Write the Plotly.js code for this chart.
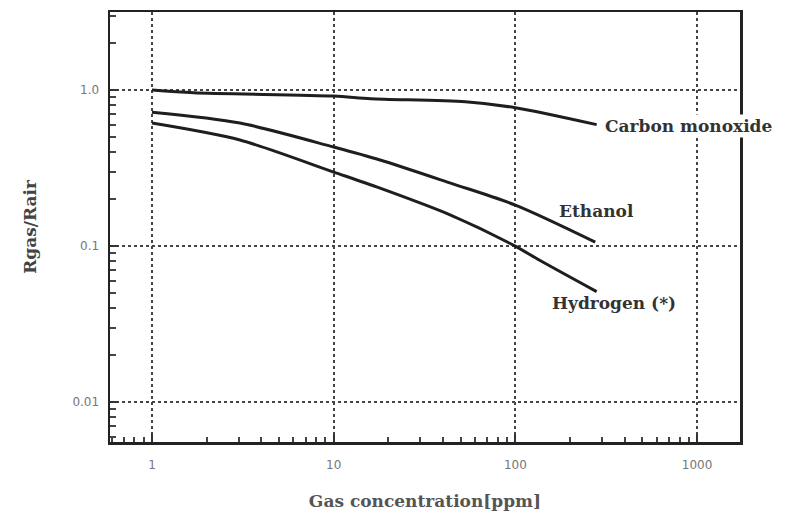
<!DOCTYPE html>
<html>
<head>
<meta charset="utf-8">
<script src="https://cdn.plot.ly/plotly-3.0.1.min.js"></script>
<style>html,body{margin:0;padding:0;background:#fff;}#chart{width:789px;height:520px;}</style>
</head>
<body>
<div id="chart"></div>
<script>
// Gas concentration (ppm) and Rgas/Rair
const coX = [1, 1.7, 10, 16, 53, 100, 280];
const coY = [1.0, 0.96, 0.915, 0.88, 0.84, 0.77, 0.6];
const ethX = [1, 3.05, 10, 18, 44, 100, 275];
const ethY = [0.72, 0.614, 0.431, 0.356, 0.253, 0.183, 0.106];
const h2X = [1, 3.05, 10, 18, 44, 98, 136, 280];
const h2Y = [0.614, 0.478, 0.298, 0.235, 0.158, 0.101, 0.081, 0.051];

const xTickVals = [1, 10, 100, 1000];
const xTickText = ["1", "10", "100", "1000"];
const yTickVals = [0.01, 0.1, 1];
const yTickText = ["0.01", "0.1", "1.0"];

const labels = ["Carbon monoxide", "Ethanol", "Hydrogen (*)"];

function minorVals(lo, hi) {
  const out = [];
  for (let d = lo; d < hi; d++) {
    for (let m = 2; m <= 9; m++) out.push(m * Math.pow(10, d));
  }
  return out;
}

const lineStyle = {color: '#1e1e1e', width: 3, shape: 'spline', smoothing: 0.8};
const traces = [
  {x: coX, y: coY, name: labels[0]},
  {x: ethX, y: ethY, name: labels[1]},
  {x: h2X, y: h2Y, name: labels[2]}
].map(t => Object.assign(t, {type: 'scatter', mode: 'lines', line: lineStyle, showlegend: false, hoverinfo: 'skip'}));

const annFont = {family: 'DejaVu Serif', size: 17, color: '#333', weight: 'bold'};
const layout = {
  width: 789, height: 520,
  margin: {l: 110, r: 49, t: 12, b: 78},
  paper_bgcolor: '#fff', plot_bgcolor: '#fff',
  xaxis: {
    type: 'log', range: [-0.231, 3.236],
    tickmode: 'array', tickvals: xTickVals, ticktext: xTickText,
    ticks: 'inside', ticklen: 8, tickwidth: 2, tickcolor: '#333',
    ticklabelstandoff: 10,
    showgrid: true, gridcolor: '#444', gridwidth: 2, griddash: 'dot',
    minor: {tickmode: 'array', tickvals: minorVals(-1, 4), ticks: 'inside', ticklen: 5, tickwidth: 2, tickcolor: '#444', showgrid: false},
    showline: true, linecolor: '#222', linewidth: 2.5, mirror: true,
    zeroline: false,
    tickfont: {family: 'DejaVu Sans', size: 12, color: '#777'},
    title: {text: 'Gas concentration[ppm]', standoff: 24, font: {family: 'DejaVu Serif', size: 17, color: '#555', weight: 'bold'}}
  },
  yaxis: {
    type: 'log', range: [-2.256, 0.5],
    tickmode: 'array', tickvals: yTickVals, ticktext: yTickText,
    ticks: 'inside', ticklen: 8, tickwidth: 2, tickcolor: '#333',
    ticklabelstandoff: 6,
    showgrid: true, gridcolor: '#444', gridwidth: 2, griddash: 'dot',
    minor: {tickmode: 'array', tickvals: minorVals(-3, 1), ticks: 'inside', ticklen: 6, tickwidth: 2, tickcolor: '#444', showgrid: false},
    showline: true, linecolor: '#222', linewidth: 2.5, mirror: true,
    zeroline: false,
    tickfont: {family: 'DejaVu Sans', size: 12, color: '#777'},
    title: {text: 'Rgas/Rair', standoff: 32, font: {family: 'DejaVu Serif', size: 17, color: '#444', weight: 'bold'}}
  },
  annotations: [
    {xref: 'x', yref: 'y', x: 2.482, y: -0.231, text: labels[0], showarrow: false, xanchor: 'left', yanchor: 'middle', font: annFont, bgcolor: '#fff'},
    {xref: 'x', yref: 'y', x: 2.229, y: -0.776, text: labels[1], showarrow: false, xanchor: 'left', yanchor: 'middle', font: annFont},
    {xref: 'x', yref: 'y', x: 2.19, y: -1.365, text: labels[2], showarrow: false, xanchor: 'left', yanchor: 'middle', font: annFont}
  ]
};

Plotly.newPlot('chart', traces, layout, {displayModeBar: false, staticPlot: true});
</script>
</body>
</html>
